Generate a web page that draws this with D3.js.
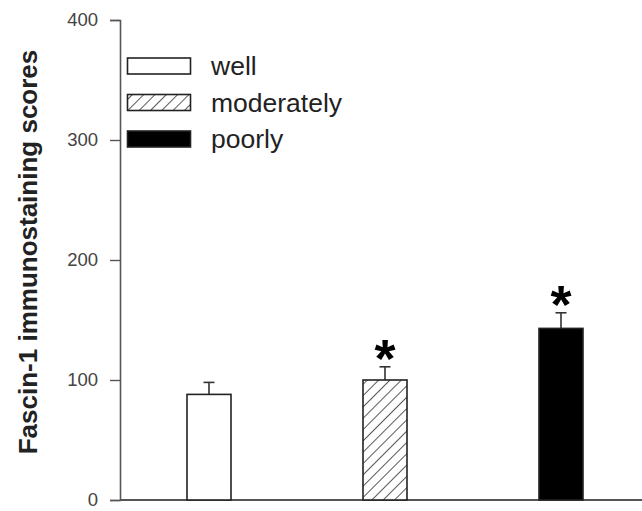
<!DOCTYPE html>
<html><head><meta charset="utf-8">
<script src="https://cdn.jsdelivr.net/npm/d3@7"></script>
<style>body{margin:0;background:#fff}svg{display:block}</style>
</head><body>
<svg id="c" width="642" height="511"></svg>
<script>
const categories = ["well", "moderately", "poorly"];
const values = [88, 100, 143];
const errors = [10, 11, 13];
const significant = [false, true, true];
const yTicks = [0, 100, 200, 300, 400];
const yLabel = "Fascin-1 immunostaining scores";

const FONT = "Liberation Sans, Arial, sans-serif";
const svg = d3.select("#c");
const defs = svg.append("defs");
const pat = defs.append("pattern").attr("id","hatch").attr("patternUnits","userSpaceOnUse")
  .attr("width",8).attr("height",8).attr("patternTransform","rotate(45)");
pat.append("rect").attr("width",8).attr("height",8).attr("fill","#fff");
pat.append("line").attr("x1",0).attr("y1",0).attr("x2",0).attr("y2",8).attr("stroke","#111").attr("stroke-width",1.4);

const fills = ["#fff","url(#hatch)","#000"];

const x = d3.scaleBand().domain(categories).range([121, 649]).paddingInner(0.75).paddingOuter(0.375);
const y = d3.scaleLinear().domain([0, 400]).range([500, 20]);

// y axis
const yAxis = svg.append("g").attr("transform","translate(120,0)")
  .call(d3.axisLeft(y).tickValues(yTicks).tickSize(10).tickPadding(12));
yAxis.select(".domain").attr("stroke","#555").attr("stroke-width",1.6);
yAxis.selectAll(".tick line").attr("stroke","#555").attr("stroke-width",1.4);
yAxis.selectAll("text").attr("font-family",FONT).attr("font-size",18.5).attr("fill","#444");

// x axis line
svg.append("line").attr("x1",120).attr("x2",642).attr("y1",y(0)).attr("y2",y(0))
  .attr("stroke","#555").attr("stroke-width",2.2);

// bars
const g = svg.append("g");
categories.forEach((c,i)=>{
  const bx = x(c), bw = x.bandwidth(), cx = bx + bw/2;
  const top = y(values[i]+errors[i]);
  g.append("line").attr("x1",cx).attr("x2",cx).attr("y1",y(values[i])).attr("y2",top)
    .attr("stroke","#333").attr("stroke-width",1.6);
  g.append("line").attr("x1",cx-5.5).attr("x2",cx+5.5).attr("y1",top).attr("y2",top)
    .attr("stroke","#333").attr("stroke-width",1.6);
  g.append("rect").attr("x",bx).attr("y",y(values[i])).attr("width",bw).attr("height",y(0)-y(values[i]))
    .attr("fill",fills[i]).attr("stroke","#222").attr("stroke-width",1.6);
  if (significant[i]) {
    const fs = 54;
    g.append("text").attr("x",cx).attr("y", top - 21 + 0.575*fs).attr("text-anchor","middle")
      .attr("font-family",FONT).attr("font-weight","bold").attr("font-size",fs).attr("fill","#000")
      .text("*");
  }
});

// legend
const leg = svg.append("g");
categories.forEach((c,i)=>{
  const ly = 58 + i*36.5;
  leg.append("rect").attr("x",127.5).attr("y",ly).attr("width",63).attr("height",16)
    .attr("fill",fills[i]).attr("stroke","#222").attr("stroke-width",1.6);
  leg.append("text").attr("x",211).attr("y",ly+8).attr("dy","0.35em")
    .attr("font-family",FONT).attr("font-size",26.5).attr("fill","#222").text(c);
});

// y label
svg.append("text").attr("transform","translate(37,252) rotate(-90)").attr("text-anchor","middle")
  .attr("font-family",FONT).attr("font-weight","bold").attr("font-size",26)
  .attr("fill","#222").text(yLabel);
</script>
</body></html>
